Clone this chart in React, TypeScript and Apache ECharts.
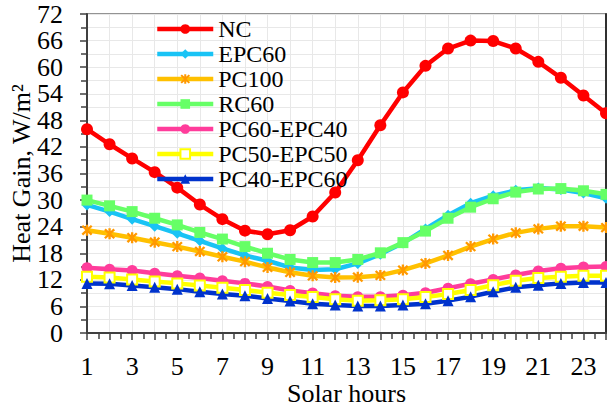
import React, { useEffect, useRef } from "react";
import * as echarts from "echarts";

const hours = [1, 2, 3, 4, 5, 6, 7, 8, 9, 10, 11, 12, 13, 14, 15, 16, 17, 18, 19, 20, 21, 22, 23, 24];

const NC = [46.0, 42.6, 39.4, 36.3, 32.8, 29.0, 25.7, 23.1, 22.3, 23.2, 26.3, 31.7, 39.0, 46.9, 54.3, 60.3, 64.2, 66.0, 65.9, 64.2, 61.2, 57.6, 53.6, 49.6];
const EPC60 = [28.9, 27.4, 25.7, 24.1, 22.5, 20.8, 19.1, 17.5, 16.3, 14.8, 14.2, 14.4, 15.7, 17.8, 20.3, 23.5, 26.6, 29.3, 31.0, 32.2, 32.7, 32.4, 31.6, 30.4];
const PC100 = [23.2, 22.4, 21.5, 20.5, 19.5, 18.4, 17.2, 16.1, 14.8, 13.7, 12.9, 12.5, 12.6, 13.0, 14.2, 15.7, 17.5, 19.5, 21.2, 22.6, 23.5, 24.1, 24.1, 23.8];
const RC60 = [30.0, 28.7, 27.4, 25.9, 24.4, 22.7, 21.2, 19.5, 18.0, 16.6, 15.9, 15.9, 16.6, 18.1, 20.4, 23.0, 25.9, 28.4, 30.3, 31.8, 32.5, 32.6, 32.1, 31.3];
const PC60_EPC40 = [14.7, 14.4, 14.1, 13.5, 12.9, 12.4, 11.8, 11.2, 10.5, 9.6, 9.0, 8.4, 8.2, 8.2, 8.5, 9.1, 10.1, 11.1, 12.1, 13.1, 14.0, 14.6, 14.9, 15.0];
const PC50_EPC50 = [12.7, 12.5, 12.1, 11.6, 11.2, 10.7, 10.2, 9.7, 9.1, 8.6, 8.1, 7.6, 7.3, 7.4, 7.6, 8.1, 8.8, 9.7, 10.8, 11.8, 12.4, 12.7, 12.9, 12.9];
const PC40_EPC60 = [11.2, 11.1, 10.7, 10.3, 9.9, 9.3, 8.8, 8.4, 7.8, 7.2, 6.6, 6.3, 6.1, 6.1, 6.3, 6.6, 7.3, 8.2, 9.3, 10.3, 10.8, 11.2, 11.4, 11.4];

const FONT = "'Liberation Serif', 'Times New Roman', serif";
const ASTERISK =
  "path://M4 0H6V10H4Z M1.7 0.3L9.7 8.3L8.3 9.7L0.3 1.7Z M0.3 8.3L8.3 0.3L9.7 1.7L1.7 9.7Z";

const pairs = (vals: number[]) => hours.map((h, i) => [h, vals[i]]);

export default function App() {
  const ref = useRef<HTMLDivElement>(null);
  useEffect(() => {
    document.body.style.margin = "0";
    const chart = echarts.init(ref.current!, null, { renderer: "svg" });
    const mk = (
      name: string,
      vals: number[],
      line: string,
      symbol: string,
      size: number,
      item: any
    ) => ({
      name,
      type: "line",
      data: pairs(vals),
      symbol,
      symbolSize: size,
      lineStyle: { color: line, width: 4.5 },
      itemStyle: item,
      z: 2,
    });
    chart.setOption({
      animation: false,
      backgroundColor: "#ffffff",
      textStyle: { fontFamily: FONT },
      grid: {
        left: 87,
        right: 1,
        top: 14,
        bottom: 73,
        show: true,
        borderColor: "#707070",
        borderWidth: 1.5,
        containLabel: false,
        outerBoundsMode: "none",
      },
      legend: {
        orient: "vertical",
        left: 155,
        top: 17,
        padding: 0,
        itemWidth: 56,
        itemHeight: 12,
        itemGap: 1,
        lineStyle: { width: 4.5 },
        textStyle: { fontFamily: FONT, fontSize: 24, color: "#000" },
        data: ["NC", "EPC60", "PC100", "RC60", "PC60-EPC40", "PC50-EPC50", "PC40-EPC60"],
      },
      xAxis: {
        type: "value",
        min: 1,
        max: 24,
        interval: 1,
        name: "Solar hours",
        nameLocation: "middle",
        nameGap: 48,
        nameMoveOverlap: false,
        nameTextStyle: { fontFamily: FONT, fontSize: 26, lineHeight: 24, color: "#000" },
        axisLine: { show: true, lineStyle: { color: "#404040", width: 2 } },
        axisTick: { show: true, inside: false, length: 7, lineStyle: { color: "#404040", width: 1.5 } },
        minorTick: { show: true, splitNumber: 2, length: 6, lineStyle: { color: "#404040", width: 1.5 } },
        axisLabel: {
          margin: 22,
          fontFamily: FONT,
          fontSize: 26,
          lineHeight: 22,
          color: "#000",
          showMinLabel: true,
          showMaxLabel: true,
          hideOverlap: false,
          formatter: (v: number) => (v % 2 === 1 ? String(v) : ""),
        },
        splitLine: { show: true, lineStyle: { color: "#e8e8e8", width: 1 } },
      },
      yAxis: [
        {
          type: "value",
          min: 0,
          max: 72,
          interval: 6,
          name: "Heat Gain, W/m²",
          nameLocation: "middle",
          nameGap: 53,
          nameMoveOverlap: false,
          nameTextStyle: { fontFamily: FONT, fontSize: 26, color: "#000" },
          axisLine: { show: true, lineStyle: { color: "#404040", width: 2 } },
          axisTick: { show: true, inside: false, length: 7, lineStyle: { color: "#404040", width: 1.5 } },
          minorTick: { show: true, splitNumber: 2, length: 6, lineStyle: { color: "#404040", width: 1.5 } },
          axisLabel: {
            margin: 24,
            fontFamily: FONT,
            fontSize: 26,
            lineHeight: 24,
            color: "#000",
            showMinLabel: true,
            showMaxLabel: true,
            hideOverlap: false,
          },
          splitLine: { show: true, lineStyle: { color: "#e8e8e8", width: 1 } },
          minorSplitLine: { show: true, lineStyle: { color: "#e8e8e8", width: 1 } },
        },
        {
          type: "value",
          position: "right",
          min: 0,
          max: 72,
          interval: 6,
          axisLine: { show: true, lineStyle: { color: "#303030", width: 2 } },
          axisTick: { show: false },
          axisLabel: { show: false },
          splitLine: { show: false },
        },
      ],
      series: [
        mk("NC", NC, "#ff0000", "circle", 12, { color: "#ff0000" }),
        mk("EPC60", EPC60, "#19c3f5", "diamond", 11, { color: "#19c3f5" }),
        mk("PC100", PC100, "#ffc000", ASTERISK, 11, { color: "#ff9900" }),
        mk("RC60", RC60, "#66ff66", "rect", 11, { color: "#66ff66" }),
        mk("PC60-EPC40", PC60_EPC40, "#ff3c9b", "circle", 11, { color: "#ff3c9b" }),
        mk("PC50-EPC50", PC50_EPC50, "#ffff00", "rect", 10, {
          color: "#ffffff",
          borderColor: "#ffff00",
          borderWidth: 2,
        }),
        mk("PC40-EPC60", PC40_EPC60, "#0033cc", "triangle", 11, { color: "#0033cc" }),
      ],
    });
    return () => chart.dispose();
  }, []);
  return (
    <div
      ref={ref}
      style={{ position: "fixed", left: 0, top: 0, width: 607, height: 406 }}
    />
  );
}
